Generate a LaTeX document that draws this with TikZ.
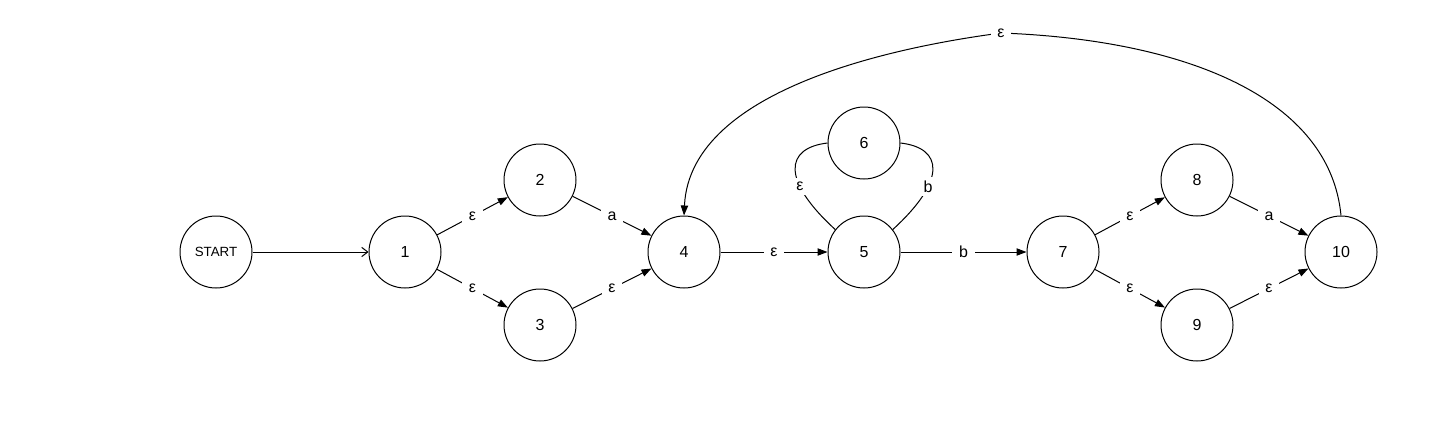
\documentclass[tikz,border=0pt]{standalone}
\usepackage{fontspec}
\setmainfont{Liberation Sans}
\usetikzlibrary{arrows.meta}
\begin{document}
\begin{tikzpicture}[x=0.75pt,y=-0.75pt,
  state/.style={draw,circle,line width=0.75pt,minimum size=54pt,inner sep=0pt,font=\fontsize{12}{14}\selectfont},
  edge/.style={line width=0.75pt,-{Triangle[length=7.5pt,width=5.5pt]}},
  plain/.style={line width=0.75pt},
  lbl/.style={fill=white,inner xsep=5pt,inner ysep=3pt,font=\fontsize{12}{14}\selectfont}]
\useasboundingbox (0,0) rectangle (1449,432);
\node[state,font=\fontsize{10}{12}\selectfont] (s) at (216,252) {START};
\node[state] (n1) at (405,252) {1};
\node[state] (n2) at (540,180) {2};
\node[state] (n3) at (540,325) {3};
\node[state] (n4) at (684,252) {4};
\node[state] (n5) at (864,252) {5};
\node[state] (n6) at (864,143) {6};
\node[state] (n7) at (1063,252) {7};
\node[state] (n8) at (1197,180) {8};
\node[state] (n9) at (1197,325) {9};
\node[state] (n10) at (1341,252) {10};
\draw[line width=0.75pt,-{Straight Barb[length=4.5pt,width=7pt]}] (s) -- (n1);
\draw[edge] (n1) -- node[lbl] {ε} (n2);
\draw[edge] (n1) -- node[lbl] {ε} (n3);
\draw[edge] (n2) -- node[lbl] {a} (n4);
\draw[edge] (n3) -- node[lbl] {ε} (n4);
\draw[edge] (n4) -- node[lbl] {ε} (n5);
\draw[edge] (n5) -- node[lbl] {b} (n7);
\draw[edge] (n7) -- node[lbl] {ε} (n8);
\draw[edge] (n7) -- node[lbl] {ε} (n9);
\draw[edge] (n8) -- node[lbl] {a} (n10);
\draw[edge] (n9) -- node[lbl] {ε} (n10);
\draw[plain] (n5.142) .. controls (781,180) and (785,148) .. node[lbl,pos=0.33] {ε} (n6.west);
\draw[plain] (n5.38) .. controls (947,180) and (943,148) .. node[lbl,pos=0.33] {b} (n6.east);
\coordinate (top) at (1001,33);
\draw[plain] (n10.north) .. controls (1330,100) and (1190,40) .. (top);
\draw[edge] (top) .. controls (910,45) and (690,85) .. (n4.north);
\node[lbl] (topl) at (top) {ε};
\end{tikzpicture}
\end{document}
